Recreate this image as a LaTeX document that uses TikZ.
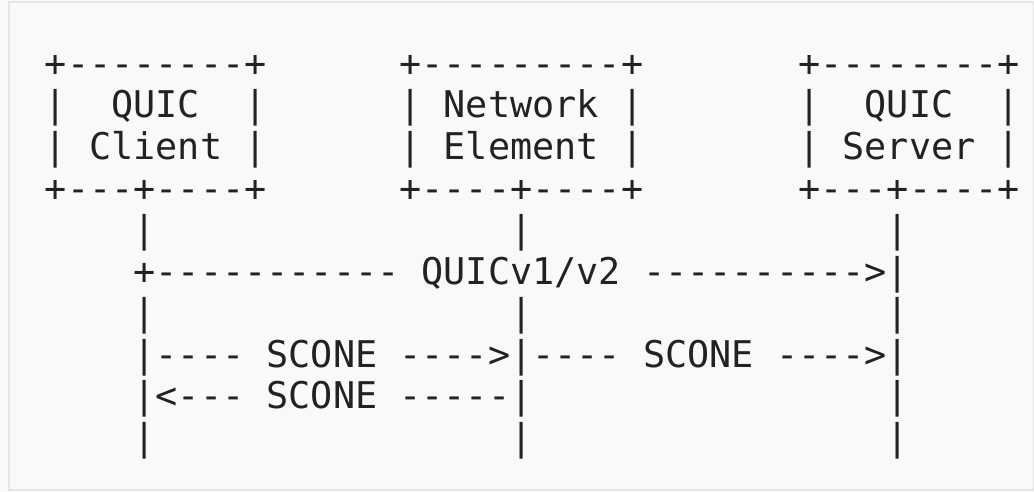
\documentclass[tikz,border=0pt]{standalone}
\usepackage{fontspec}
\setmonofont{DejaVu Sans Mono}
\definecolor{inkgray}{HTML}{222222}
\definecolor{pagegray}{HTML}{F9F9F9}
\definecolor{edgegray}{HTML}{E6E6E6}
\newcommand{\asciifont}{\ttfamily\fontsize{18.4}{20}\selectfont}
\tikzset{
  asciirow/.style={anchor=base west, inner sep=0pt, outer sep=0pt,
    font=\asciifont, text=inkgray}
}
\begin{document}
\begin{tikzpicture}[x=0.5pt, y=-0.5pt]
      % Page
      \useasboundingbox (0,0) rectangle (1034,492);
      \fill[pagegray] (0,0) rectangle (1034,492);
      \draw[edgegray, line width=0.6pt] (9,2) rectangle (1034,490);

      % Boxes (top)
      \node[asciirow] (boxtop)  at (45,76.5)
        {+--------+~~~~~~+---------+~~~~~~~+--------+};
      \node[asciirow] (boxname) at (45,118)
        {|~~QUIC~~|~~~~~~|~Network~|~~~~~~~|~~QUIC~~|};
      \node[asciirow] (boxrole) at (45,159.5)
        {|~Client~|~~~~~~|~Element~|~~~~~~~|~Server~|};
      \node[asciirow] (boxbot)  at (45,201)
        {+---+----+~~~~~~+----+----+~~~~~~~+---+----+};

      % Lifelines and messages
      \node[asciirow] (lifea)  at (45,242.5)
        {~~~~|~~~~~~~~~~~~~~~~|~~~~~~~~~~~~~~~~|};
      \node[asciirow] (quicmsg) at (45,284)
        {~~~~+-----------~QUICv1/v2~---------->|};
      \node[asciirow] (lifeb)  at (45,325.5)
        {~~~~|~~~~~~~~~~~~~~~~|~~~~~~~~~~~~~~~~|};
      \node[asciirow] (sconeout) at (45,367)
        {~~~~|----~SCONE~---->|----~SCONE~---->|};
      \node[asciirow] (sconeback) at (45,408.5)
        {~~~~|<---~SCONE~-----|~~~~~~~~~~~~~~~~|};
      \node[asciirow] (lifec)  at (45,450)
        {~~~~|~~~~~~~~~~~~~~~~|~~~~~~~~~~~~~~~~|};
\end{tikzpicture}
\end{document}
